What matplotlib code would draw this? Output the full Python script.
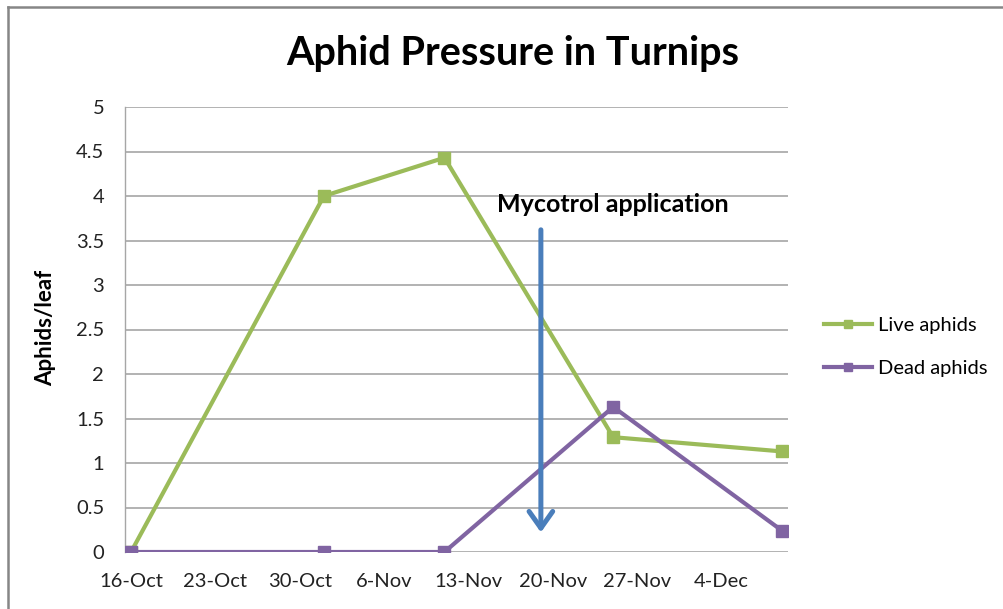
import numpy as np
import pandas as pd
import matplotlib
matplotlib.use("Agg")
import matplotlib.pyplot as plt
import matplotlib.dates as mdates

plt.rcParams['font.family'] = ['Lato', 'DejaVu Sans']

# sample dates and values
dates = pd.to_datetime(['2012-10-16', '2012-11-01', '2012-11-11', '2012-11-25', '2012-12-09'])
live_aphids = [0.0, 4.0, 4.43, 1.29, 1.13]
dead_aphids = [0.0, 0.0, 0.0, 1.63, 0.24]
tick_dates = pd.date_range('2012-10-16', '2012-12-04', freq='7D')
application_date = pd.Timestamp('2012-11-19')
arrow_top, arrow_tip = 3.62, 0.22

W, H = 1004, 609
fig = plt.figure(figsize=(W / 100, H / 100), dpi=100)
ax = fig.add_axes([125 / W, 1 - 552 / H, (788 - 125) / W, (552 - 107) / H])

# chart border (only the top and left show in the crop)
fig.add_artist(plt.Line2D([8 / W, 8 / W], [0, 1 - 7 / H], transform=fig.transFigure,
                          color='#868686', lw=1.8))
fig.add_artist(plt.Line2D([8 / W, 1], [1 - 7 / H, 1 - 7 / H], transform=fig.transFigure,
                          color='#868686', lw=1.8))

green, purple = '#9BBB59', '#8064A2'
ax.plot(dates, live_aphids, color=green, lw=3, marker='s', ms=8, label='Live aphids', zorder=3)
ax.plot(dates, dead_aphids, color=purple, lw=3, marker='s', ms=8, label='Dead aphids', zorder=3)

ax.annotate('', xy=(application_date, arrow_tip), xytext=(application_date, arrow_top),
            arrowprops=dict(arrowstyle='->,head_length=1.2,head_width=0.85',
                            color='#4A7EBB', lw=3.6, shrinkA=0, shrinkB=0), zorder=4)
ax.text(pd.Timestamp('2012-11-25'), 3.9, 'Mycotrol application', ha='center', va='center',
        fontsize=18, fontweight='bold')

ax.set_xlim(dates[0] - pd.Timedelta(hours=12), dates[-1] + pd.Timedelta(hours=12))
ax.set_ylim(0, 5)
ax.set_yticks(np.arange(0, 5.01, 0.5))
ax.set_yticklabels(['0', '0.5', '1', '1.5', '2', '2.5', '3', '3.5', '4', '4.5', '5'])
ax.set_xticks(tick_dates)
ax.xaxis.set_major_formatter(mdates.DateFormatter('%-d-%b'))
ax.tick_params(axis='both', length=0, labelsize=14.5, colors='#222222')
ax.tick_params(axis='x', pad=15)
ax.tick_params(axis='y', pad=15)

ax.grid(axis='y', color='#a6a6a6', lw=1.2)
ax.set_axisbelow(True)
for s in ['top', 'right', 'bottom']:
    ax.spines[s].set_visible(False)
ax.spines['left'].set_color('#a6a6a6')
ax.spines['left'].set_linewidth(1.0)

fig.text(46 / W, 1 - 328 / H, 'Aphids/leaf', rotation=90, ha='center', va='center',
         fontsize=16, fontweight='bold')
fig.text(513 / W, 1 - 53 / H, 'Aphid Pressure in Turnips', ha='center', va='center',
         fontsize=28.5, fontweight='bold')

ax.legend(loc='center left', bbox_to_anchor=(806 / W, 1 - 347 / H), bbox_transform=fig.transFigure,
          frameon=False, fontsize=14.5, handlelength=2.4, labelspacing=1.25, handletextpad=0.3,
          markerscale=0.75)

fig.savefig('out.png', dpi=100)
